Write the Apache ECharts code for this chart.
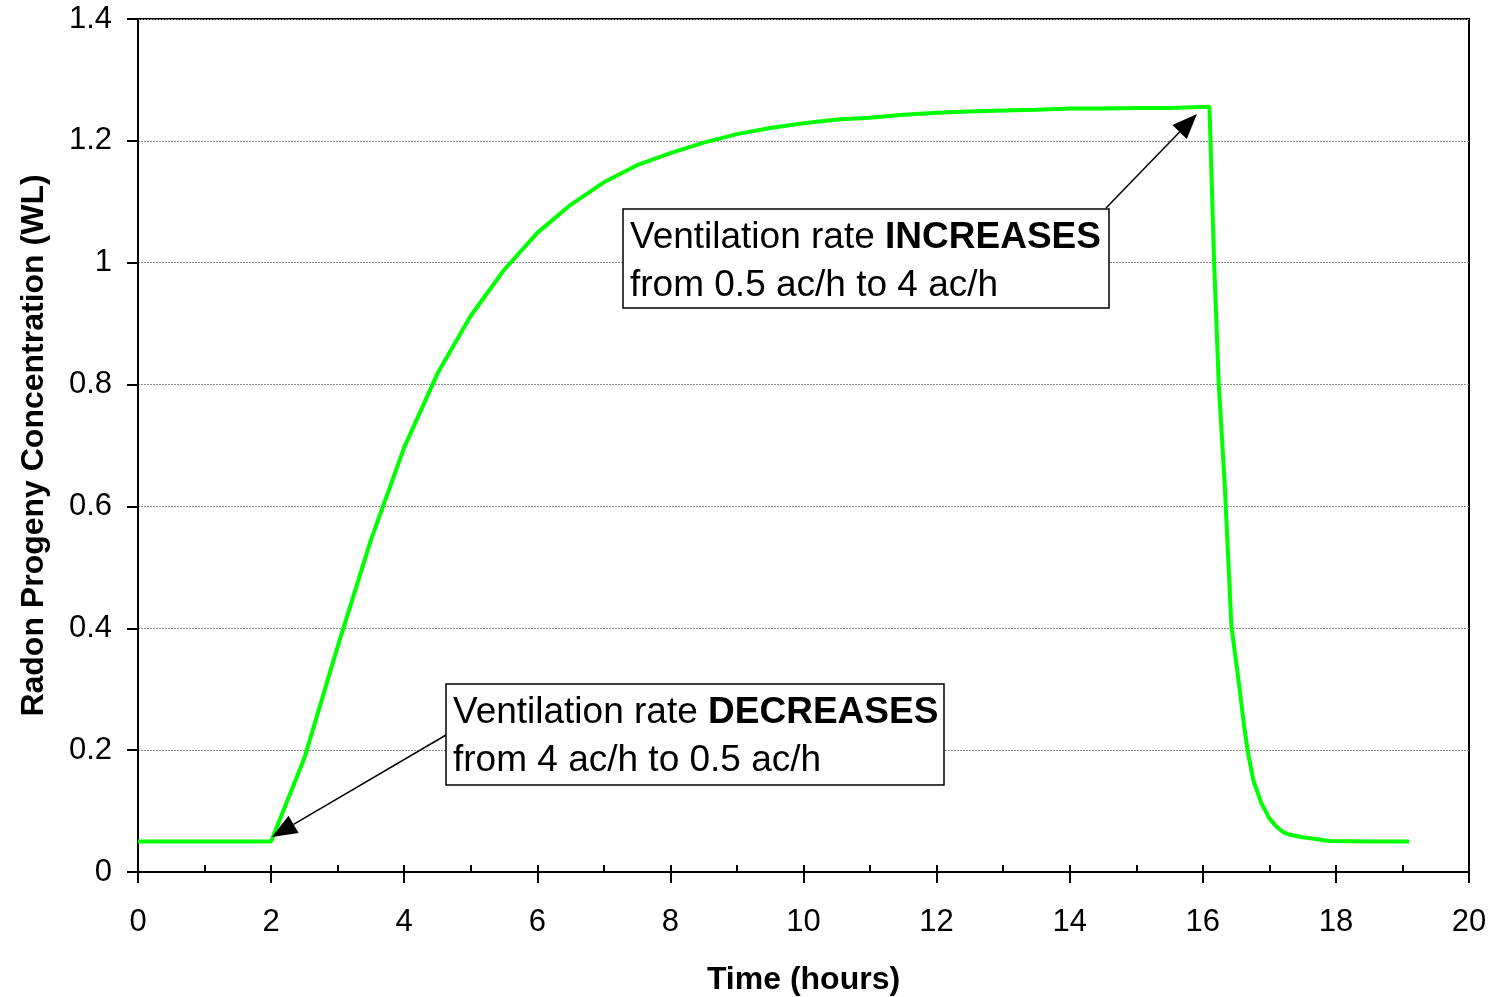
<!DOCTYPE html>
<html>
<head>
<meta charset="utf-8">
<script src="https://cdn.jsdelivr.net/npm/echarts@6/dist/echarts.min.js"></script>
<style>
html,body{margin:0;padding:0;background:#fff;}
#chart{width:1494px;height:997px;}
</style>
</head>
<body>
<div id="chart"></div>
<script>
// ---- data ----
const timeHours = [0, 0.5, 1, 1.5, 2, 2.5, 3, 3.5, 4, 4.5, 5, 5.5, 6, 6.5, 7, 7.5, 8, 8.5, 9, 9.5, 10, 10.5, 11, 11.5, 12, 12.5, 13, 13.5, 14, 14.5, 15, 15.5, 16.1, 16.17, 16.24, 16.33, 16.43, 16.5, 16.56, 16.62, 16.68, 16.76, 16.88, 17.0, 17.1, 17.2, 17.31, 17.5, 17.7, 17.9, 18.5, 19.1];
const concentration = [0.05, 0.05, 0.05, 0.05, 0.05, 0.187, 0.37, 0.545, 0.697, 0.818, 0.913, 0.988, 1.049, 1.095, 1.132, 1.16, 1.18, 1.197, 1.211, 1.221, 1.229, 1.235, 1.238, 1.243, 1.246, 1.248, 1.25, 1.251, 1.253, 1.253, 1.254, 1.254, 1.256, 1.0, 0.80, 0.635, 0.403, 0.345, 0.294, 0.24, 0.195, 0.15, 0.113, 0.088, 0.075, 0.066, 0.061, 0.057, 0.054, 0.051, 0.05, 0.05];
const xAxisTitle = 'Time (hours)';
const yAxisTitle = 'Radon Progeny Concentration (WL)';
const noteIncrease = ['Ventilation rate ', 'INCREASES', 'from 0.5 ac/h to 4 ac/h'];
const noteDecrease = ['Ventilation rate ', 'DECREASES', 'from 4 ac/h to 0.5 ac/h'];

const FONT = '"Liberation Sans", Arial, Helvetica, sans-serif';
const seriesData = timeHours.map((t, i) => [t, concentration[i]]);

function arrow(x1, y1, x2, y2) {
  const ang = Math.atan2(y2 - y1, x2 - x1);
  const L = 25, W = 10;
  const bx = x2 - L * Math.cos(ang), by = y2 - L * Math.sin(ang);
  const px = -Math.sin(ang) * W, py = Math.cos(ang) * W;
  return [
    {type: 'line', shape: {x1: x1, y1: y1, x2: bx, y2: by}, style: {stroke: '#000', lineWidth: 1.5}, z: 100},
    {type: 'polygon', shape: {points: [[x2, y2], [bx + px, by + py], [bx - px, by - py]]}, style: {fill: '#000'}, z: 100}
  ];
}

function note(x, y, w, h, parts) {
  return [
    {type: 'rect', shape: {x: x, y: y, width: w, height: h}, style: {fill: '#fff', stroke: '#000', lineWidth: 1.5}, z: 101},
    {type: 'text', x: x + 7, y: y + 5, z: 102, style: {
      text: '{n|' + parts[0] + '}{b|' + parts[1] + '}\n{n|' + parts[2] + '}',
      rich: {
        n: {fontSize: 37, fontFamily: FONT, lineHeight: 48, fill: '#000'},
        b: {fontSize: 37, fontFamily: FONT, fontWeight: 'bold', lineHeight: 48, fill: '#000'}
      }
    }}
  ];
}

const axisLineStyle = {color: '#000', width: 2};
const chart = echarts.init(document.getElementById('chart'));
chart.setOption({
  animation: false,
  backgroundColor: '#fff',
  grid: {left: 138, right: 25, top: 19, bottom: 125, containLabel: false, outerBoundsMode: 'none',
    show: true, borderColor: '#000', borderWidth: 2, backgroundColor: 'transparent'},
  xAxis: [{
    type: 'value', min: 0, max: 20, interval: 2,
    axisLine: {onZero: false, lineStyle: axisLineStyle},
    axisTick: {show: true, length: 11, lineStyle: axisLineStyle},
    axisLabel: {fontSize: 31, color: '#000', margin: 35, fontFamily: FONT},
    splitLine: {show: false},
    name: xAxisTitle, nameLocation: 'middle', nameGap: 92,
    nameTextStyle: {fontSize: 32, fontWeight: 'bold', color: '#000', fontFamily: FONT}
  }, {
    type: 'value', min: 0, max: 20, interval: 1, position: 'bottom',
    axisLine: {show: false, onZero: false},
    axisTick: {show: true, inside: true, length: 7, lineStyle: axisLineStyle},
    axisLabel: {show: false},
    splitLine: {show: false}
  }],
  yAxis: {
    type: 'value', min: 0, max: 1.4, interval: 0.2,
    axisLine: {show: true, onZero: false, lineStyle: axisLineStyle},
    axisTick: {show: true, length: 11, lineStyle: axisLineStyle},
    axisLabel: {fontSize: 31, color: '#000', margin: 26, fontFamily: FONT},
    splitLine: {show: true, lineStyle: {color: '#8c8c8c', width: 1, type: [2, 1]}},
    name: yAxisTitle, nameLocation: 'middle', nameGap: 88, nameRotate: 90,
    nameTextStyle: {fontSize: 32, fontWeight: 'bold', color: '#000', fontFamily: FONT}
  },
  series: [{
    type: 'line', xAxisIndex: 0, yAxisIndex: 0,
    data: seriesData, symbol: 'none', smooth: false,
    lineStyle: {color: '#00ff00', width: 4}, z: 5
  }],
  graphic: [].concat(
    arrow(1106, 208, 1197, 114),
    note(623, 209, 486, 99, noteIncrease),
    arrow(446, 735, 272, 837),
    note(446, 684, 498, 101, noteDecrease)
  )
});
</script>
</body>
</html>
